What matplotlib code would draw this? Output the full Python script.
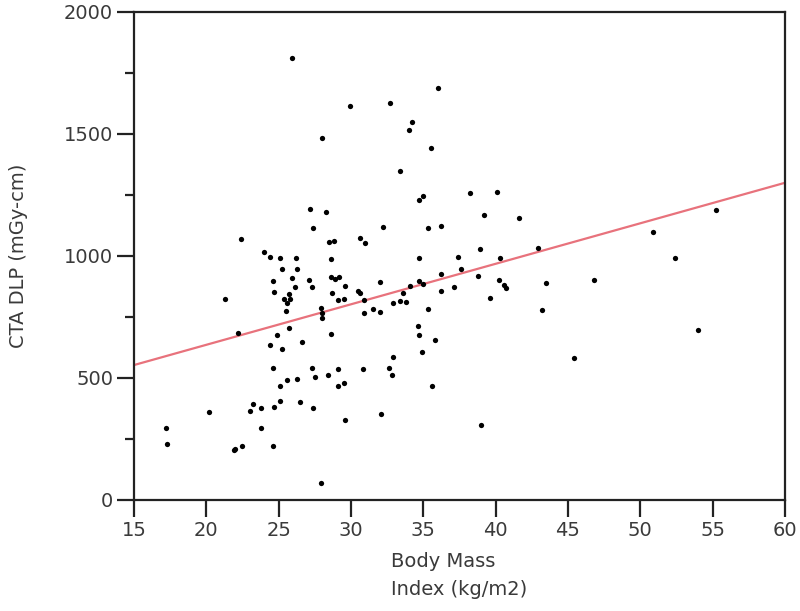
import matplotlib
matplotlib.use("Agg")
import matplotlib.pyplot as plt
import numpy as np
from matplotlib.ticker import MultipleLocator

bmi = [25.9, 36.0, 29.9, 32.7, 34.2, 34.0, 28.0, 35.5, 33.4, 35.0, 34.7, 27.2, 28.3, 27.4, 32.2,
       35.3, 36.2, 22.4, 28.5, 28.8, 30.6, 31.0, 24.0, 24.4, 25.1, 26.2, 28.6, 34.7, 37.4, 25.2,
       26.3, 24.6, 25.9, 27.1, 28.6, 28.9, 29.2, 26.1, 27.3, 29.6, 32.0, 34.7, 36.2, 35.0, 34.1,
       24.7, 28.7, 30.5, 30.6, 25.4, 25.7, 25.8, 25.6, 29.1, 29.5, 30.9, 36.2, 37.1, 33.6, 33.4,
       33.8, 32.9, 21.3, 25.5, 27.9, 28.0, 28.0, 30.9, 31.5, 32.0, 35.3, 22.2, 25.7, 24.9, 28.6,
       34.6, 34.7, 26.6, 35.8, 24.4, 25.2, 34.9, 32.9, 24.6, 27.3, 29.1, 30.8, 32.6, 27.5, 28.4,
       32.8, 25.6, 26.3, 25.1, 29.1, 29.5, 35.6, 25.1, 26.5, 23.2, 23.0, 23.8, 24.7, 27.4, 20.2,
       32.1, 29.6, 23.8, 17.2, 17.3, 22.0, 21.9, 22.5, 24.6, 27.9, 38.2, 40.1, 39.2, 41.6, 38.9,
       42.9, 40.3, 50.9, 55.2, 52.4, 37.6, 38.8, 40.2, 40.6, 40.7, 43.5, 46.8, 39.6, 43.2, 54.0,
       45.4, 39.0]
dlp = [1811, 1689, 1615, 1628, 1550, 1516, 1482, 1441, 1350, 1246, 1230, 1193, 1179, 1113, 1119,
       1116, 1124, 1068, 1059, 1063, 1074, 1053, 1018, 996, 993, 990, 986, 993, 995, 945,
       945, 898, 911, 903, 915, 906, 915, 872, 872, 877, 892, 898, 925, 884, 877,
       854, 850, 857, 847, 825, 844, 825, 809, 820, 824, 820, 855, 872, 847, 816,
       811, 806, 824, 775, 788, 765, 745, 768, 781, 770, 781, 683, 705, 678, 682,
       712, 676, 649, 654, 635, 617, 607, 585, 541, 541, 537, 538, 542, 503, 511,
       511, 490, 495, 467, 466, 481, 466, 407, 403, 392, 363, 378, 380, 377, 362,
       352, 328, 296, 294, 228, 209, 204, 221, 220, 70, 1257, 1261, 1168, 1155, 1027,
       1031, 990, 1100, 1190, 990, 947, 918, 900, 881, 870, 891, 903, 826, 777, 695,
       581, 306]

fit_intercept = 304.0
fit_slope = 16.6

x_ticks = [15, 20, 25, 30, 35, 40, 45, 50, 55, 60]
y_ticks = [0, 500, 1000, 1500, 2000]

plt.rcParams['font.family'] = ['DejaVu Sans']
text_color = '#3a3a3a'

fig = plt.figure(figsize=(8.0, 6.11), dpi=100)
ax = fig.add_axes([0.1675, 0.1817, 0.81375, 0.7987])

xf = np.array([x_ticks[0], x_ticks[-1]], dtype=float)
ax.plot(xf, fit_intercept + fit_slope * xf, color='#e8727c', lw=1.6, zorder=2)
ax.plot(bmi, dlp, 'o', color='black', markersize=3.8, markeredgewidth=0, zorder=3)

ax.set_xlim(15, 60)
ax.set_ylim(0, 2000)
ax.set_xticks(x_ticks)
ax.set_yticks(y_ticks)
ax.yaxis.set_minor_locator(MultipleLocator(250))

for s in ax.spines.values():
    s.set_linewidth(1.6)
    s.set_color('#222222')

ax.tick_params(axis='both', which='major', length=12, width=1.6, color='#222222',
               labelsize=14, labelcolor=text_color, pad=3)
ax.tick_params(axis='y', which='minor', length=6.5, width=1.6, color='#222222')

ax.set_xlabel('Body Mass\nIndex (kg/m2)', fontsize=14, color=text_color,
              multialignment='left', labelpad=9, linespacing=1.6)
ax.set_ylabel('CTA DLP (mGy-cm)', fontsize=14, color=text_color, labelpad=26)

fig.savefig('out.png', dpi=100)
